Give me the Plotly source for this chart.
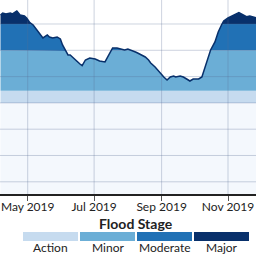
import plotly.graph_objects as go

dates = ["2019-04-06", "2019-04-08", "2019-04-11", "2019-04-15", "2019-04-17", "2019-04-21",
         "2019-04-24", "2019-04-28", "2019-04-30", "2019-05-03", "2019-05-06", "2019-05-09",
         "2019-05-12", "2019-05-15", "2019-05-19", "2019-05-21", "2019-05-24", "2019-05-28",
         "2019-05-31", "2019-06-02", "2019-06-05", "2019-06-07", "2019-06-09", "2019-06-12",
         "2019-06-15", "2019-06-18", "2019-06-20", "2019-06-23", "2019-06-27", "2019-07-02",
         "2019-07-06", "2019-07-11", "2019-07-14", "2019-07-16", "2019-07-18", "2019-07-22",
         "2019-07-26", "2019-07-29", "2019-08-01", "2019-08-04", "2019-08-08", "2019-08-10",
         "2019-08-13", "2019-08-17", "2019-08-20", "2019-08-22", "2019-08-26", "2019-08-29",
         "2019-09-01", "2019-09-03", "2019-09-06", "2019-09-09", "2019-09-12", "2019-09-14",
         "2019-09-18", "2019-09-21", "2019-09-24", "2019-09-27", "2019-09-30", "2019-10-05",
         "2019-10-08", "2019-10-11", "2019-10-14", "2019-10-16", "2019-10-20", "2019-10-23",
         "2019-10-26", "2019-10-28", "2019-11-01", "2019-11-05", "2019-11-08", "2019-11-11",
         "2019-11-15", "2019-11-18", "2019-11-21", "2019-11-27"]
stage = [41.71, 42.09, 41.90, 42.09, 41.90, 42.47,
         41.71, 41.52, 41.14, 40.25, 39.81, 39.05,
         38.29, 37.34, 37.91, 37.53, 37.34, 37.53,
         37.15, 36.01, 34.87, 34.11, 34.11, 33.54,
         32.78, 32.40, 32.07, 33.16, 33.54, 33.35,
         32.97, 32.78, 33.92, 34.68, 35.44, 35.44,
         35.25, 35.06, 35.25, 35.06, 34.68, 34.49,
         34.11, 33.73, 33.16, 32.59, 31.83, 31.06,
         30.49, 29.92, 29.35, 29.92, 30.11, 29.92,
         30.11, 29.92, 29.54, 29.16, 29.54, 29.54,
         29.92, 31.83, 33.54, 35.06, 36.58, 38.48,
         39.81, 40.57, 41.14, 41.52, 41.71, 42.15,
         41.71, 41.39, 41.52, 41.14]

stage_names = ["Action", "Minor", "Moderate", "Major"]
stage_levels = [25.0, 27.3, 35.0, 40.0]
stage_colors = ["#c6dbef", "#6baed6", "#2171b5", "#08306b"]
below_color = "#f4f8fd"

tick_vals = ["2019-05-01", "2019-07-01", "2019-09-01", "2019-11-01"]
tick_text = ["May 2019", "Jul 2019", "Sep 2019", "Nov 2019"]
y_grid = [10, 15, 20, 25, 30, 35, 40]

x_range = ["2019-04-05 13:00", "2019-11-26 17:00"]
y_range = [7.68, 44.56]

fig = go.Figure()

# Base fill (below action stage)
fig.add_trace(go.Scatter(x=dates, y=[min(v, stage_levels[0]) for v in stage],
                         mode="lines", line=dict(width=0), fill="tozeroy",
                         fillcolor=below_color, hoverinfo="skip", showlegend=False))
uppers = stage_levels[1:] + [1e9]
for lvl_up, col in zip(uppers, stage_colors):
    fig.add_trace(go.Scatter(x=dates, y=[min(v, lvl_up) for v in stage],
                             mode="lines", line=dict(width=0), fill="tonexty",
                             fillcolor=col, hoverinfo="skip", showlegend=False))

# Gridlines drawn above fills
gx, gy = [], []
for v in y_grid:
    gx += [x_range[0], x_range[1], None]
    gy += [v, v, None]
for t in tick_vals:
    gx += [t, t, None]
    gy += [y_range[0], y_range[1], None]
fig.add_trace(go.Scatter(x=gx, y=gy, mode="lines",
                         line=dict(color="rgba(90,110,150,0.3)", width=1),
                         hoverinfo="skip", showlegend=False))

# Stage line
fig.add_trace(go.Scatter(x=dates, y=stage, mode="lines",
                         line=dict(color="#08306b", width=1.5),
                         hoverinfo="skip", showlegend=False))

fig.update_xaxes(type="date", range=x_range, tickvals=tick_vals, ticktext=tick_text,
                 showgrid=False, showline=True, linecolor="#222", linewidth=1.5,
                 ticks="outside", ticklen=5, tickcolor="#555", tickwidth=1,
                 ticklabelstandoff=-4,
                 tickfont=dict(family="Lato", size=12, color="#222"), zeroline=False)
fig.update_yaxes(range=y_range, showgrid=False, showticklabels=False, zeroline=False,
                 showline=False)

# Legend (discrete color key)
shapes = []
annotations = []
box_w = 55 / 256
gap = 2 / 256
x0 = 23 / 256
for i, (name, col) in enumerate(zip(stage_names, stage_colors)):
    xa = x0 + i * (box_w + gap)
    shapes.append(dict(type="rect", xref="paper", yref="paper", x0=xa, x1=xa + box_w,
                       y0=-0.2423, y1=-0.1959, fillcolor=col, line=dict(width=0)))
    annotations.append(dict(text=name, xref="paper", yref="paper", x=xa + box_w / 2,
                            y=-0.278, showarrow=False, xanchor="center", yanchor="middle",
                            font=dict(family="Lato", size=12, color="#222")))
annotations.append(dict(text="<b>Flood Stage</b>", xref="paper", yref="paper",
                        x=x0 + 2 * (box_w + gap) - gap / 2, y=-0.1546, showarrow=False,
                        xanchor="center", yanchor="middle",
                        font=dict(family="Lato", size=14, color="#222")))

fig.update_layout(width=256, height=256, margin=dict(l=0, r=0, t=0, b=62),
                  paper_bgcolor="white", plot_bgcolor="white",
                  shapes=shapes, annotations=annotations)

fig.write_html("out.html")
